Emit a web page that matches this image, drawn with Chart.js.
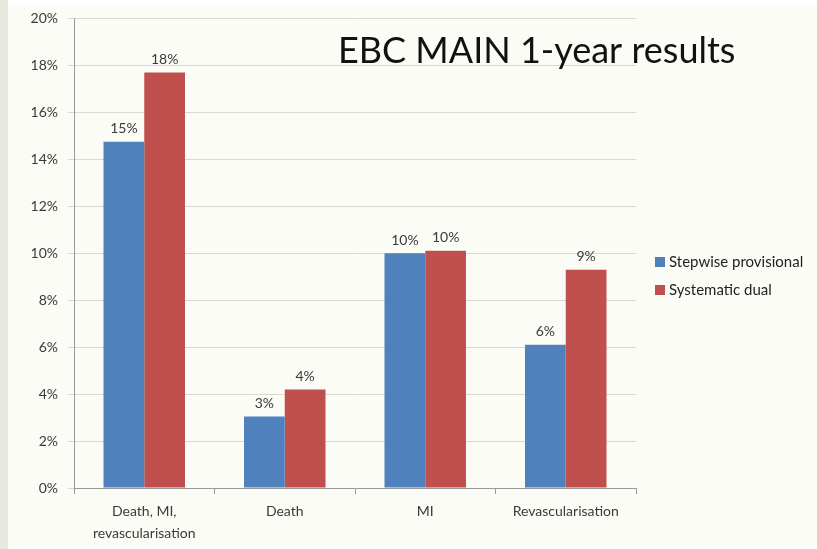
<!DOCTYPE html>
<html>
<head>
<meta charset="utf-8">
<script src="https://cdn.jsdelivr.net/npm/chart.js@4/dist/chart.umd.min.js"></script>
<style>
  html, body { margin: 0; padding: 0; background: #ffffff; }
  #wrap { width: 817px; height: 549px; position: relative; }
</style>
</head>
<body>
<div id="wrap"><canvas id="grafica" width="817" height="549"></canvas></div>
<script>
// datos del grafico
const categorias = [["Death, MI,", "revascularisation"], "Death", "MI", "Revascularisation"];
const stepwise = [14.75, 3.05, 10.0, 6.1];
const sistematico = [17.7, 4.2, 10.1, 9.3];
const etiquetasSerie = ["Stepwise provisional", "Systematic dual"];
const coloresSerie = ["#4f81bd", "#c0504d"];
const titulo = "EBC MAIN 1-year results";

const fuente = "Lato, 'Open Sans', sans-serif";
const gris = "#3a3a3a";

// fondo, titulo, etiquetas y leyenda
const extras = {
    id: "extras",
    beforeDraw(chart) {
        const c = chart.ctx;
        c.save();
        c.fillStyle = "#fcfcf6";
        c.fillRect(0, 0, chart.width, chart.height);
        c.fillStyle = "#e9e8df";
        c.fillRect(0, 0, 8, chart.height);
        c.fillStyle = "#ffffff";
        c.fillRect(8, 0, chart.width, 5);
        c.fillRect(8, 545, chart.width, 4);
        c.restore();
    },
    afterDatasetsDraw(chart) {
        const c = chart.ctx;
        c.save();
        c.font = "14px " + fuente;
        c.fillStyle = gris;
        c.textAlign = "center";
        c.textBaseline = "bottom";
        chart.data.datasets.forEach((ds, i) => {
            chart.getDatasetMeta(i).data.forEach((bar, j) => {
                c.fillText(Math.round(ds.data[j]) + "%", bar.x, bar.y - 6);
            });
        });

        // titulo
        c.font = "36px " + fuente;
        c.fillStyle = "#111111";
        c.textAlign = "left";
        c.textBaseline = "middle";
        c.fillText(titulo, 338, 51);

        // leyenda
        c.font = "15px " + fuente;
        etiquetasSerie.forEach((lab, i) => {
            const y = 262 + i * 28;
            c.fillStyle = coloresSerie[i];
            c.fillRect(655, y - 5, 10, 10);
            c.fillStyle = "#222222";
            c.fillText(lab, 669, y);
        });
        c.restore();
    }
};

const ctx = document.getElementById("grafica").getContext("2d");

new Chart(ctx, {
    type: "bar",
    data: {
        labels: categorias,
        datasets: etiquetasSerie.map((lab, i) => ({
            label: lab,
            data: i === 0 ? stepwise : sistematico,
            backgroundColor: coloresSerie[i],
            categoryPercentage: 0.58,
            barPercentage: 1.0
        }))
    },
    options: {
        responsive: false,
        animation: false,
        layout: { padding: { left: 8, top: 12, right: 181, bottom: 0 } },
        plugins: {
            legend: { display: false },
            tooltip: { enabled: false }
        },
        scales: {
            x: {
                grid: {
                    offset: true,
                    drawOnChartArea: false,
                    tickLength: 6,
                    color: "#9a9a9a"
                },
                border: { color: "#9a9a9a" },
                ticks: {
                    color: gris,
                    font: { size: 14, family: fuente, lineHeight: 1.6 },
                    padding: 6,
                    maxRotation: 0
                },
                afterFit(scale) { scale.height = 61; }
            },
            y: {
                min: 0,
                max: 20,
                grid: { color: "#d9d9d3", tickLength: 6 },
                border: { color: "#9a9a9a" },
                ticks: {
                    stepSize: 2,
                    color: gris,
                    font: { size: 14, family: fuente },
                    padding: 10,
                    callback: v => v + "%"
                },
                afterFit(scale) { scale.width = 66; }
            }
        }
    },
    plugins: [extras]
});
</script>
</body>
</html>
